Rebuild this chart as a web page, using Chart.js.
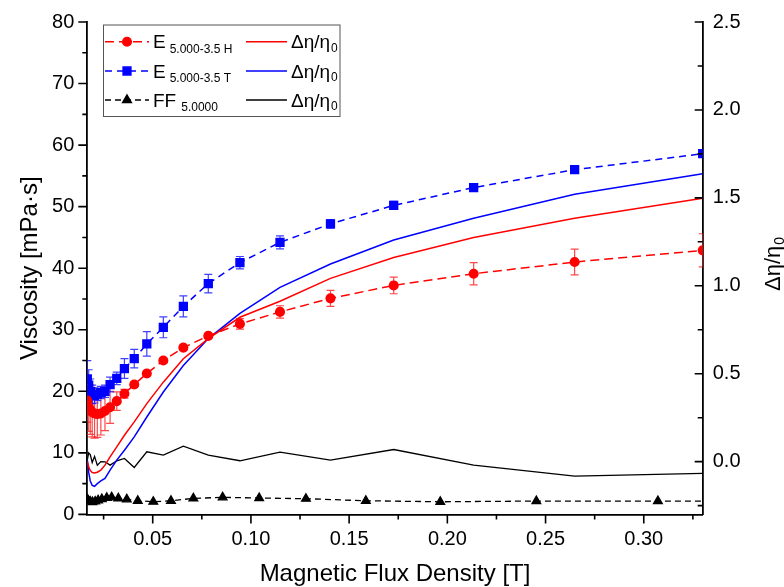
<!DOCTYPE html>
<html>
<head>
<meta charset="utf-8">
<script src="https://cdn.jsdelivr.net/npm/chart.js@4.4.1/dist/chart.umd.min.js"></script>
<style>
  html, body { margin: 0; padding: 0; background: #fff; }
  #wrap { width: 784px; height: 587px; position: relative; }
</style>
</head>
<body>
<div id="wrap"><canvas id="chart" width="784" height="587"></canvas></div>
<script>
// Magnetic flux density [T] of the E measurements
const fieldE = [0.0167, 0.0174, 0.0182, 0.0192, 0.0204, 0.0218, 0.0236, 0.0257, 0.0283, 0.0317, 0.0356,
  0.0406, 0.0470, 0.0554, 0.0656, 0.0783, 0.0944, 0.1148, 0.1405, 0.1727, 0.2134, 0.2648, 0.3300];

// E 5.000-3.5 H : viscosity [mPa·s] and error
const viscH = [18.5, 17.5, 17.0, 16.6, 16.4, 16.3, 16.4, 16.8, 17.4, 18.4, 19.6,
  21.1, 22.9, 25.0, 27.1, 29.0, 30.95, 32.9, 35.1, 37.2, 39.1, 41.0, 42.9];
const errH = [3.5, 4.0, 4.0, 4.0, 4.0, 3.8, 3.5, 3.2, 2.6, 1.5, 0.7,
  0.4, 0.4, 0.4, 0.4, 0.4, 0.86, 1.0, 1.3, 1.35, 1.8, 2.1, 2.7];

// E 5.000-3.5 T : viscosity [mPa·s] and error
const viscT = [22.0, 21.0, 20.0, 19.5, 19.3, 19.5, 19.8, 20.0, 21.1, 22.1, 23.7,
  25.3, 27.7, 30.4, 33.8, 37.5, 40.9, 44.2, 47.2, 50.2, 53.1, 56.0, 58.6];
const errT = [3.0, 2.5, 2.0, 1.5, 1.2, 1.0, 1.0, 1.0, 1.2, 1.0, 1.6,
  1.5, 2.0, 1.7, 1.7, 1.5, 1.0, 1.05, 0.7, 0.65, 0.43, 0.35, 0.3];

// relative viscosity change (right axis)
const ratioH = [0.0, -0.03, -0.05, -0.062, -0.065, -0.06, -0.048, -0.02, 0.027, 0.084, 0.15,
  0.226, 0.33, 0.452, 0.585, 0.70, 0.821, 0.912, 1.042, 1.161, 1.274, 1.384, 1.498];
const ratioT = [0.01, -0.06, -0.11, -0.135, -0.14, -0.125, -0.11, -0.095, -0.048, 0.0085, 0.065,
  0.141, 0.254, 0.396, 0.547, 0.70, 0.8435, 0.991, 1.124, 1.26, 1.384, 1.52, 1.637];
const ratioFF = [0.01, 0.05, 0.04, -0.005, 0.03, -0.02, 0.0, -0.001, -0.02, 0.005, 0.018,
  -0.033, 0.056, 0.037, 0.088, 0.037, 0.005, 0.054, 0.0085, 0.069, -0.02, -0.082, -0.067];

// FF 5.0000
const fieldFF = [0.0167, 0.0173, 0.0182, 0.0193, 0.0207, 0.0222, 0.0241, 0.0266, 0.0291, 0.0325, 0.0368,
  0.0424, 0.0503, 0.0593, 0.0707, 0.0856, 0.1042, 0.1280, 0.1585, 0.1964, 0.2453, 0.3072, 0.3850];
const viscFF = [2.5, 2.2, 2.1, 2.0, 2.1, 2.3, 2.5, 2.7, 2.77, 2.6, 2.45,
  2.22, 2.06, 2.22, 2.6, 2.77, 2.66, 2.55, 2.22, 2.05, 2.17, 2.17, 2.15];

// ticks
const xMajor = [0.05, 0.10, 0.15, 0.20, 0.25, 0.30];
const xMinor = [0.025, 0.075, 0.125, 0.175, 0.225, 0.275, 0.325];
const yMajor = [0, 10, 20, 30, 40, 50, 60, 70, 80];
const yMinor = [5, 15, 25, 35, 45, 55, 65, 75];
const y2Major = [0.0, 0.5, 1.0, 1.5, 2.0, 2.5];
const y2Minor = [-0.25, 0.25, 0.75, 1.25, 1.75, 2.25];

const FONT = '"Liberation Sans", Arial, sans-serif';
const RED = '#ff0000', BLUE = '#0000ff', BLACK = '#000000';

function pts(xs, ys) {
  return xs.map((x, i) => ({ x: x, y: ys[i] }));
}
function isIn(list, v) {
  return list.some(m => Math.abs(m - v) < 1e-9);
}
function setTicks(major, minor) {
  return scale => {
    scale.ticks = major.concat(minor).sort((a, b) => a - b).map(v => ({ value: v }));
  };
}

// error bars with caps, drawn under the markers
const errorBars = {
  id: 'errorBars',
  beforeDatasetsDraw(chart) {
    const { ctx, chartArea: a } = chart;
    ctx.save();
    ctx.beginPath();
    ctx.rect(a.left, a.top, a.right - a.left, a.bottom - a.top);
    ctx.clip();
    chart.data.datasets.forEach(ds => {
      if (!ds.errors) return;
      const xs = chart.scales.x, ys = chart.scales[ds.yAxisID];
      ctx.strokeStyle = ds.errorColor;
      ctx.lineWidth = 1.2;
      ds.data.forEach((p, j) => {
        const e = ds.errors[j];
        const px = xs.getPixelForValue(p.x);
        const lo = ys.getPixelForValue(p.y - e), hi = ys.getPixelForValue(p.y + e);
        ctx.beginPath();
        ctx.moveTo(px, lo); ctx.lineTo(px, hi);
        ctx.moveTo(px - 4, lo); ctx.lineTo(px + 4, lo);
        ctx.moveTo(px - 4, hi); ctx.lineTo(px + 4, hi);
        ctx.stroke();
      });
    });
    ctx.restore();
  }
};

// major / minor tick marks, axis titles and the boxed legend
const decorations = {
  id: 'decorations',
  afterDraw(chart) {
    const { ctx, chartArea: a } = chart;
    const sx = chart.scales.x, sy = chart.scales.y, sy2 = chart.scales.y2;
    ctx.save();
    ctx.strokeStyle = BLACK;
    ctx.lineWidth = 1.6;
    ctx.beginPath();
    sx.ticks.forEach(t => {
      const p = sx.getPixelForValue(t.value), len = isIn(xMajor, t.value) ? 9 : 5;
      ctx.moveTo(p, a.bottom); ctx.lineTo(p, a.bottom + len);
    });
    sy.ticks.forEach(t => {
      const p = sy.getPixelForValue(t.value), len = isIn(yMajor, t.value) ? 9 : 5;
      ctx.moveTo(a.left, p); ctx.lineTo(a.left - len, p);
    });
    sy2.ticks.forEach(t => {
      const p = sy2.getPixelForValue(t.value), len = isIn(y2Major, t.value) ? 8 : 5;
      ctx.moveTo(a.right, p); ctx.lineTo(a.right - len, p);
    });
    ctx.stroke();

    // axis titles
    ctx.fillStyle = BLACK;
    ctx.textBaseline = 'alphabetic';
    ctx.font = '24px ' + FONT;
    ctx.textAlign = 'center';
    ctx.fillText('Magnetic Flux Density [T]', (a.left + a.right) / 2, 581);

    ctx.save();
    ctx.translate(37, (a.top + a.bottom) / 2);
    ctx.rotate(-Math.PI / 2);
    ctx.fillText('Viscosity [mPa·s]', 0, 0);
    ctx.restore();

    ctx.save();
    ctx.translate(780, 264);
    ctx.rotate(-Math.PI / 2);
    ctx.textAlign = 'left';
    ctx.font = '22px ' + FONT;
    const w1 = ctx.measureText('Δη/η').width;
    ctx.font = '14px ' + FONT;
    const w2 = ctx.measureText('0').width;
    const x0 = -(w1 + w2 + 1) / 2;
    ctx.font = '22px ' + FONT;
    ctx.fillText('Δη/η', x0, 0);
    ctx.font = '14px ' + FONT;
    ctx.fillText('0', x0 + w1 + 1, 4);
    ctx.restore();

    // legend
    const bx = 103.5, by = 25, bw = 236.5, bh = 91.5;
    ctx.fillStyle = '#fff';
    ctx.fillRect(bx, by, bw, bh);
    ctx.strokeStyle = '#555';
    ctx.lineWidth = 1;
    ctx.strokeRect(bx, by, bw, bh);
    chart.data.datasets.forEach(ds => {
      if (!ds.legend) return;
      const L = ds.legend, cy = L.row;
      ctx.strokeStyle = ds.borderColor;
      ctx.fillStyle = ds.borderColor;
      ctx.lineWidth = 1.5;
      ctx.setLineDash(ds.borderDash || []);
      ctx.beginPath();
      ctx.moveTo(L.x1, cy); ctx.lineTo(L.x2, cy);
      ctx.stroke();
      ctx.setLineDash([]);
      if (ds.pointRadius) {
        Chart.helpers.drawPoint(ctx, { pointStyle: ds.pointStyle, radius: ds.pointRadius, rotation: 0, borderWidth: 1 },
          (L.x1 + L.x2) / 2, cy);
      }
      ctx.fillStyle = BLACK;
      ctx.textAlign = 'left';
      ctx.font = '19px ' + FONT;
      ctx.fillText(L.main, L.tx, cy + 6.5);
      const mw = ctx.measureText(L.main).width;
      ctx.font = '12px ' + FONT;
      ctx.fillText(L.sub, L.tx + mw + (L.gap || 1), cy + (L.drop || 11));
    });
    ctx.restore();
  }
};

const rowY = [41.7, 71, 100];

new Chart(document.getElementById('chart'), {
  type: 'line',
  data: {
    datasets: [
      { data: pts(fieldE, viscH), yAxisID: 'y', borderColor: RED, backgroundColor: RED,
        borderDash: [9, 5], borderWidth: 1.5, pointStyle: 'circle', pointRadius: 4.3,
        errors: errH, errorColor: 'rgba(255,40,40,0.85)',
        legend: { row: rowY[0], x1: 105, x2: 149, tx: 153, main: 'E', sub: '5.000-3.5 H', gap: 4 } },
      { data: pts(fieldE, viscT), yAxisID: 'y', borderColor: BLUE, backgroundColor: BLUE,
        borderDash: [7, 5], borderWidth: 1.5, pointStyle: 'rect', pointRadius: 5.5,
        errors: errT, errorColor: 'rgba(30,30,255,0.85)',
        legend: { row: rowY[1], x1: 105, x2: 149, tx: 153, main: 'E', sub: '5.000-3.5 T', gap: 4 } },
      { data: pts(fieldFF, viscFF), yAxisID: 'y', borderColor: BLACK, backgroundColor: BLACK,
        borderDash: [6, 4], borderWidth: 1.3, pointStyle: 'triangle', pointRadius: 5,
        legend: { row: rowY[2], x1: 105, x2: 149, tx: 153, main: 'FF', sub: '5.0000', gap: 5 } },
      { data: pts(fieldE, ratioH), yAxisID: 'y2', borderColor: RED, borderWidth: 1.5, pointRadius: 0,
        legend: { row: rowY[0], x1: 246, x2: 287, tx: 291, main: 'Δη/η', sub: '0', gap: 1, drop: 10 } },
      { data: pts(fieldE, ratioT), yAxisID: 'y2', borderColor: BLUE, borderWidth: 1.5, pointRadius: 0,
        legend: { row: rowY[1], x1: 246, x2: 287, tx: 291, main: 'Δη/η', sub: '0', gap: 1, drop: 10 } },
      { data: pts(fieldE, ratioFF), yAxisID: 'y2', borderColor: BLACK, borderWidth: 1.3, pointRadius: 0,
        legend: { row: rowY[2], x1: 246, x2: 287, tx: 291, main: 'Δη/η', sub: '0', gap: 1, drop: 10 } }
    ]
  },
  options: {
    responsive: false,
    animation: false,
    devicePixelRatio: 1,
    layout: { padding: { top: 20.5, left: 0, right: 0, bottom: 0 } },
    elements: { line: { tension: 0, fill: false }, point: { borderWidth: 1, hoverRadius: 5 } },
    plugins: { legend: { display: false }, tooltip: { enabled: false } },
    scales: {
      x: {
        type: 'linear', min: 0.0167, max: 0.33,
        afterBuildTicks: setTicks(xMajor, xMinor),
        afterFit: s => { s.height = 72.6; },
        grid: { drawOnChartArea: false, tickLength: 9, color: 'rgba(0,0,0,0)' },
        border: { display: true, color: BLACK, width: 1.8 },
        ticks: { autoSkip: false, maxRotation: 0, padding: 4, color: BLACK, font: { family: FONT, size: 20 },
          callback: v => isIn(xMajor, v) ? v.toFixed(2) : '' }
      },
      y: {
        type: 'linear', position: 'left', min: 0, max: 80,
        afterBuildTicks: setTicks(yMajor, yMinor),
        afterFit: s => { s.width = 87.3; },
        grid: { drawOnChartArea: false, tickLength: 9, color: 'rgba(0,0,0,0)' },
        border: { display: true, color: BLACK, width: 1.8 },
        ticks: { autoSkip: false, padding: 4, color: BLACK, font: { family: FONT, size: 20 },
          callback: v => isIn(yMajor, v) ? String(v) : '' }
      },
      y2: {
        type: 'linear', position: 'right', min: -0.3, max: 2.5,
        afterBuildTicks: setTicks(y2Major, y2Minor),
        afterFit: s => { s.width = 81.3; },
        grid: { drawOnChartArea: false, drawTicks: false, color: 'rgba(0,0,0,0)' },
        border: { display: true, color: BLACK, width: 1.8 },
        ticks: { autoSkip: false, padding: 10, color: BLACK, font: { family: FONT, size: 20 },
          callback: v => isIn(y2Major, v) ? v.toFixed(1) : '' }
      }
    }
  },
  plugins: [errorBars, decorations]
});
</script>
</body>
</html>
